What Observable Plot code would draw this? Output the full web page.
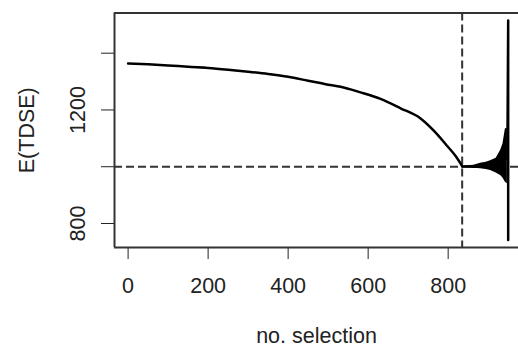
<!DOCTYPE html>
<html>
<head>
<meta charset="utf-8">
<script src="https://cdn.jsdelivr.net/npm/d3@7"></script>
<script src="https://cdn.jsdelivr.net/npm/@observablehq/plot@0.6"></script>
<style>
  html, body { margin: 0; padding: 0; background: #fff; overflow: hidden; }
</style>
</head>
<body>
<div id="chart"></div>
<script>
// smooth part of E(TDSE) curve
const curveX = [0, 50, 100, 150, 200, 250, 300, 350, 400, 450, 500, 531, 581, 631, 681, 731, 764, 797, 820, 835];
const curveY = [1364, 1361, 1357, 1352, 1348, 1342, 1335, 1327, 1317, 1303, 1289, 1282, 1262, 1239, 1206, 1170, 1127, 1074, 1035, 1002];
// oscillating tail: centre and envelope
const tailX  = [835, 850, 864, 881, 895, 906, 920, 931, 937, 943, 948];
const tailLo = [999, 998, 995, 993, 990, 987, 978, 969, 960, 945, 940];
const tailHi = [1002, 1003, 1005, 1012, 1016, 1021, 1030, 1057, 1080, 1133, 1136];
const tailMid = [1001, 1001, 1000, 1002, 1003, 1004, 1004, 1010, 1015, 1030, 1030];
// final spike
const spikeX = [950, 950];
const spikeY = [1515, 742];
// reference lines
const refY = [1000];
const refX = [835];
// axes
const xTicks = [0, 200, 400, 600, 800];
const yTicks = [800, 1000, 1200, 1400];
const yTickLabels = ["800", "", "1200", ""];
const xLabel = "no. selection";
const yLabel = "E(TDSE)";

const smooth = curveX.map((x, i) => ({x, y: curveY[i]}));
const tail = [
  ...tailX.map((x, i) => ({x, y: tailMid[i]})),
  ...spikeX.map((x, i) => ({x, y: spikeY[i]}))
];
const band = tailX.map((x, i) => ({x, lo: tailLo[i], hi: tailHi[i]}));
const yLab = yTicks.map((v, i) => ({v, t: yTickLabels[i]})).filter(d => d.t !== "");

const xDom = [-34, 975.8];
const yDom = [715.4, 1541.6];
const ink = "#222";

const chart = Plot.plot({
  width: 518,
  height: 347,
  marginLeft: 114,
  marginRight: 0,
  marginTop: 12.5,
  marginBottom: 100,
  style: {fontFamily: "'Liberation Sans', Arial, sans-serif", fontSize: "21.5px", color: ink, background: "#fff"},
  x: {domain: xDom, ticks: xTicks, tickSize: 12, tickPadding: 18, tickFormat: d => String(d), label: null},
  y: {domain: yDom, ticks: yTicks, tickSize: 13, tickFormat: () => "", label: null},
  marks: [
    // frame (top, bottom, left)
    Plot.ruleY([yDom[1], yDom[0]], {stroke: "#333", strokeWidth: 2}),
    Plot.ruleX([xDom[0]], {stroke: "#333", strokeWidth: 2}),
    Plot.ruleY(refY, {stroke: "#333", strokeWidth: 2, strokeDasharray: "8,4"}),
    Plot.ruleX(refX, {stroke: "#333", strokeWidth: 2, strokeDasharray: "8,4"}),
    Plot.areaY(band, {x: "x", y1: "lo", y2: "hi", fill: "#000", curve: "linear"}),
    Plot.line(smooth, {x: "x", y: "y", stroke: "#000", strokeWidth: 2.5, curve: "monotone-x"}),
    Plot.line(tail, {x: "x", y: "y", stroke: "#000", strokeWidth: 2.5}),
    Plot.text(yLab, {y: "v", text: "t", frameAnchor: "left", dx: -36, rotate: -90, textAnchor: "middle", lineAnchor: "middle", fill: ink, fontSize: 21.5}),
    Plot.text([yLabel], {text: d => d, frameAnchor: "left", dx: -87, rotate: -90, textAnchor: "middle", lineAnchor: "middle", fill: ink, fontSize: 21.5}),
    Plot.text([xLabel], {text: d => d, frameAnchor: "bottom", dy: 89, textAnchor: "middle", lineAnchor: "middle", fill: ink, fontSize: 21.5})
  ]
});
document.getElementById("chart").appendChild(chart);
</script>
</body>
</html>
